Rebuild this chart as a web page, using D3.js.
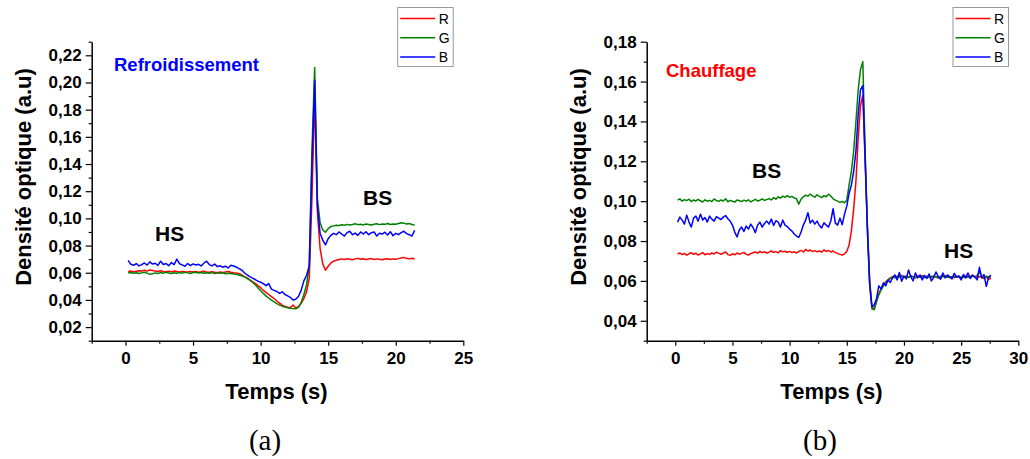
<!DOCTYPE html>
<html><head><meta charset="utf-8">
<script src="https://cdn.jsdelivr.net/npm/d3@7"></script>
<style>body{margin:0;background:#fff}svg{display:block}</style>
</head><body>
<svg id="c" width="1030" height="459"></svg>
<script>
// ---------------- DATA ----------------
const seriesNames = ["R", "G", "B"];
const timeStep = 0.2; // s, sampling interval of both recordings

// (a) Refroidissement, t = 0.2 ... 21.4 s
const redA = [.0610,.0612,.0608,.0611,.0615,.0613,.0618,.0612,.0620,.0616,
 .0612,.0609,.0614,.0610,.0607,.0611,.0608,.0612,.0609,.0606,
 .0610,.0607,.0605,.0609,.0606,.0610,.0604,.0607,.0611,.0606,
 .0603,.0607,.0604,.0600,.0605,.0602,.0606,.0609,.0604,.0600,
 .0598,.0593,.0585,.0572,.0562,.0548,.0535,.0522,.0505,.0490,
 .0470,.0455,.0440,.0424,.0410,.0392,.0376,.0362,.0352,.0346,
 .0343,.0362,.0341,.0350,.0375,.0410,.0460,.0560,.1150,.1900,
 .1050,.0780,.0665,.0618,.0648,.0672,.0685,.0692,.0698,.0702,
 .0698,.0703,.0700,.0696,.0702,.0706,.0699,.0703,.0697,.0701,
 .0704,.0698,.0702,.0699,.0695,.0701,.0703,.0698,.0702,.0700,
 .0704,.0709,.0713,.0706,.0702,.0707,.0701];
const greenA = [.0598,.0602,.0596,.0600,.0594,.0599,.0603,.0597,.0588,.0592,
 .0599,.0595,.0601,.0597,.0603,.0598,.0594,.0600,.0596,.0601,
 .0597,.0603,.0599,.0595,.0601,.0604,.0598,.0602,.0596,.0600,
 .0597,.0601,.0595,.0599,.0596,.0600,.0593,.0597,.0594,.0590,
 .0588,.0584,.0578,.0570,.0558,.0545,.0530,.0512,.0490,.0468,
 .0448,.0430,.0414,.0398,.0385,.0373,.0362,.0354,.0347,.0342,
 .0338,.0336,.0335,.0345,.0380,.0440,.0510,.0650,.1500,.2110,
 .1150,.0970,.0915,.0898,.0925,.0940,.0945,.0950,.0948,.0953,
 .0950,.0956,.0952,.0955,.0960,.0954,.0957,.0952,.0958,.0955,
 .0951,.0957,.0960,.0954,.0958,.0956,.0962,.0955,.0959,.0957,
 .0962,.0968,.0965,.0958,.0962,.0955,.0952];
const blueA = [.0690,.0662,.0655,.0668,.0650,.0660,.0672,.0656,.0680,.0664,
 .0670,.0654,.0685,.0661,.0668,.0652,.0675,.0660,.0700,.0666,
 .0658,.0648,.0668,.0652,.0665,.0657,.0662,.0650,.0670,.0685,
 .0660,.0650,.0664,.0645,.0652,.0640,.0648,.0635,.0655,.0650,
 .0642,.0630,.0620,.0600,.0585,.0572,.0560,.0550,.0538,.0530,
 .0520,.0505,.0520,.0480,.0470,.0462,.0448,.0460,.0440,.0430,
 .0418,.0400,.0405,.0425,.0470,.0540,.0580,.0650,.1400,.2017,
 .1100,.0890,.0840,.0805,.0850,.0875,.0890,.0880,.0900,.0885,
 .0870,.0895,.0905,.0880,.0892,.0875,.0900,.0885,.0902,.0880,
 .0895,.0900,.0870,.0890,.0885,.0898,.0878,.0902,.0872,.0890,
 .0880,.0895,.0905,.0888,.0880,.0870,.0912];

// (b) Chauffage, t = 0.2 ... 27.6 s
const redB = [.0735,.0740,.0732,.0738,.0729,.0736,.0741,.0733,.0739,.0730,
 .0736,.0742,.0731,.0737,.0733,.0740,.0735,.0744,.0738,.0734,
 .0739,.0745,.0732,.0728,.0736,.0731,.0740,.0734,.0738,.0743,
 .0733,.0730,.0737,.0741,.0745,.0739,.0748,.0742,.0746,.0740,
 .0744,.0750,.0743,.0747,.0741,.0752,.0746,.0749,.0744,.0748,
 .0742,.0746,.0740,.0748,.0753,.0745,.0758,.0750,.0755,.0747,
 .0752,.0746,.0750,.0744,.0755,.0748,.0753,.0745,.0750,.0742,
 .0738,.0733,.0730,.0736,.0748,.0780,.0850,.0960,.1100,.1320,
 .1480,.1530,.1200,.0880,.0600,.0470,.0460,.0500,.0535,.0560,
 .0580,.0595,.0605,.0615,.0620,.0625,.0617,.0622,.0628,.0619,
 .0624,.0618,.0626,.0621,.0615,.0623,.0619,.0627,.0620,.0616,
 .0622,.0618,.0625,.0620,.0614,.0621,.0626,.0619,.0623,.0617,
 .0621,.0616,.0624,.0619,.0613,.0620,.0625,.0618,.0622,.0630,
 .0619,.0615,.0622,.0618,.0612,.0620,.0608,.0612];
const greenB = [.1005,.1012,.1000,.1008,.1003,.1010,.0998,.1006,.1001,.1009,
 .1002,.0996,.1007,.1000,.1004,.0998,.1011,.1003,.0999,.1006,
 .1001,.1012,.0997,.1004,.1000,.0995,.1006,.1002,.0998,.1005,
 .1000,.1007,.0996,.1003,.1009,.1001,.1005,.1011,.1004,.1008,
 .1013,.1006,.1018,.1010,.1022,.1015,.1025,.1019,.1028,.1020,
 .1024,.1016,.1012,.0985,.1010,.1022,.1030,.1025,.1036,.1027,
 .1020,.1032,.1024,.1018,.1028,.1022,.1035,.1026,.1012,.1005,
 .1000,.0994,.0998,.0992,.1005,.1080,.1150,.1250,.1400,.1560,
 .1660,.1700,.1260,.0850,.0580,.0460,.0455,.0495,.0530,.0555,
 .0575,.0590,.0602,.0612,.0620,.0616,.0624,.0619,.0623,.0618,
 .0622,.0617,.0625,.0620,.0616,.0624,.0619,.0621,.0617,.0623,
 .0619,.0624,.0618,.0622,.0616,.0623,.0620,.0625,.0618,.0621,
 .0617,.0622,.0619,.0624,.0618,.0621,.0616,.0623,.0620,.0625,
 .0619,.0628,.0645,.0622,.0615,.0624,.0618,.0621];
const blueB = [.0895,.0920,.0905,.0885,.0930,.0895,.0870,.0915,.0925,.0900,
 .0935,.0905,.0918,.0895,.0925,.0910,.0900,.0922,.0915,.0908,
 .0920,.0928,.0912,.0900,.0880,.0845,.0820,.0855,.0870,.0848,
 .0875,.0860,.0885,.0868,.0842,.0880,.0895,.0870,.0888,.0900,
 .0885,.0910,.0878,.0902,.0895,.0870,.0905,.0880,.0872,.0860,
 .0850,.0835,.0825,.0818,.0845,.0880,.0905,.0942,.0890,.0905,
 .0885,.0900,.0878,.0865,.0892,.0880,.0870,.0900,.0962,.0890,
 .0880,.0915,.0882,.0935,.0975,.1040,.1080,.1150,.1250,.1440,
 .1560,.1580,.1230,.0870,.0590,.0470,.0480,.0510,.0575,.0560,
 .0590,.0575,.0605,.0592,.0615,.0630,.0605,.0642,.0598,.0625,
 .0610,.0655,.0620,.0600,.0640,.0615,.0630,.0605,.0628,.0612,
 .0635,.0600,.0618,.0645,.0622,.0608,.0640,.0615,.0630,.0620,
 .0610,.0638,.0618,.0625,.0605,.0632,.0615,.0640,.0612,.0628,
 .0620,.0605,.0668,.0615,.0632,.0572,.0618,.0630];

const xTicksA = [0, 5, 10, 15, 20, 25];
const xTicksB = [0, 5, 10, 15, 20, 25, 30];
const yTicksA = [0.02, 0.04, 0.06, 0.08, 0.10, 0.12, 0.14, 0.16, 0.18, 0.20, 0.22];
const yTicksB = [0.04, 0.06, 0.08, 0.10, 0.12, 0.14, 0.16, 0.18];
const xLabel = "Temps (s)";
const yLabel = "Densité optique (a.u)";

// ---------------- DRAW ----------------
const colors = {R: "#ff0000", G: "#008000", B: "#0000ff"};
const FONT = "'Liberation Sans', Arial, sans-serif";
const svg = d3.select("#c");

function panel(cfg) {
  const x = d3.scaleLinear().domain(cfg.xDomain).range([cfg.x0, cfg.x1]);
  const y = d3.scaleLinear().domain(cfg.yDomain).range([cfg.yBottom, cfg.yTop]);
  const g = svg.append("g");

  // minor ticks
  const xMinor = d3.range(cfg.xDomain[0], cfg.xDomain[1] + 0.001, 2.5).filter(v => Math.abs(v % 5) > 0.1);
  const yMinor = d3.range(cfg.yDomain[0], cfg.yDomain[1] + 0.0001, 0.01).filter(v => Math.abs(Math.round(v * 100) % 2) === 1);
  g.append("g").attr("transform", `translate(0,${cfg.yBottom})`)
    .call(d3.axisBottom(x).tickValues(xMinor).tickSize(3).tickFormat("").tickSizeOuter(0))
    .call(s => s.select(".domain").remove());
  g.append("g").attr("transform", `translate(${cfg.x0},0)`)
    .call(d3.axisLeft(y).tickValues(yMinor).tickSize(3).tickFormat("").tickSizeOuter(0))
    .call(s => s.select(".domain").remove());

  const fmt = d => d3.format(".2f")(d).replace(".", ",");
  const xa = g.append("g").attr("transform", `translate(0,${cfg.yBottom})`)
    .call(d3.axisBottom(x).tickValues(cfg.xTicks).tickSize(5).tickPadding(6).tickSizeOuter(0));
  const ya = g.append("g").attr("transform", `translate(${cfg.x0},0)`)
    .call(d3.axisLeft(y).tickValues(cfg.yTicks).tickFormat(fmt).tickSize(6).tickPadding(4).tickSizeOuter(0));
  [xa, ya].forEach(a => {
    a.selectAll("text").attr("font-family", FONT).attr("font-weight", "bold").attr("font-size", 17).attr("fill", "#000");
    a.select(".domain").attr("stroke-width", 1.5);
  });
  g.selectAll(".tick line").attr("stroke", "#000").attr("stroke-width", 1.2);

  // series
  const line = d3.line().x(d => x(d[0])).y(d => y(d[1]));
  cfg.series.forEach((vals, i) => {
    const pts = vals.map((v, k) => [(k + 1) * timeStep, v]);
    g.append("path").datum(pts).attr("d", line)
      .attr("fill", "none").attr("stroke", colors[seriesNames[i]])
      .attr("stroke-width", 1.5).attr("stroke-linejoin", "round");
  });

  // axis titles
  g.append("text").attr("x", (cfg.x0 + cfg.x1) / 2 - 1).attr("y", 399)
    .attr("text-anchor", "middle").attr("font-family", FONT).attr("font-weight", "bold")
    .attr("font-size", 22).text(xLabel);
  g.append("text").attr("transform", `translate(${cfg.yTitleX},177) rotate(-90)`)
    .attr("text-anchor", "middle").attr("font-family", FONT).attr("font-weight", "bold")
    .attr("font-size", 22).text(yLabel);

  // annotations
  cfg.notes.forEach(n => {
    g.append("text").attr("x", n.x).attr("y", n.y).attr("font-family", FONT)
      .attr("font-weight", "bold").attr("font-size", n.size).attr("fill", n.color).text(n.text);
  });

  // legend
  const lg = g.append("g").attr("transform", `translate(${cfg.legendX},7.5)`);
  lg.append("rect").attr("x", 0).attr("y", 0).attr("width", 55.5).attr("height", 59)
    .attr("fill", "#fff").attr("stroke", "#999").attr("stroke-width", 1);
  seriesNames.forEach((s, i) => {
    const yy = 11 + i * 19.2;
    lg.append("line").attr("x1", 2.5).attr("x2", 37.5).attr("y1", yy).attr("y2", yy)
      .attr("stroke", colors[s]).attr("stroke-width", 1.5);
    lg.append("text").attr("x", 41).attr("y", yy + 5).attr("font-family", FONT)
      .attr("font-size", 14).attr("fill", "#000").text(s);
  });

  // caption
  g.append("text").attr("x", cfg.capX).attr("y", 450).attr("text-anchor", "middle")
    .attr("font-family", "'Liberation Serif', 'DejaVu Serif', serif").attr("font-size", 29)
    .attr("fill", "#000").text(cfg.caption);
}

panel({
  xDomain: [-2.5, 25], yDomain: [0.01, 0.23],
  x0: 91.7, x1: 463.3, yTop: 41.7, yBottom: 340.7,
  xTicks: xTicksA, yTicks: yTicksA, series: [redA, greenA, blueA],
  yTitleX: 31, legendX: 397.7, capX: 265, caption: "(a)",
  notes: [
    {text: "Refroidissement", x: 114, y: 71, size: 18.5, color: "#0000ff"},
    {text: "HS", x: 155, y: 241, size: 21, color: "#000"},
    {text: "BS", x: 363, y: 205, size: 21, color: "#000"}
  ]
});
panel({
  xDomain: [-2.5, 30], yDomain: [0.03, 0.18],
  x0: 646.7, x1: 1018.3, yTop: 41.7, yBottom: 340.7,
  xTicks: xTicksB, yTicks: yTicksB, series: [redB, greenB, blueB],
  yTitleX: 586, legendX: 953, capX: 820, caption: "(b)",
  notes: [
    {text: "Chauffage", x: 666, y: 77, size: 18.5, color: "#ff0000"},
    {text: "BS", x: 752, y: 178, size: 21, color: "#000"},
    {text: "HS", x: 944, y: 258, size: 21, color: "#000"}
  ]
});
</script>
</body></html>
